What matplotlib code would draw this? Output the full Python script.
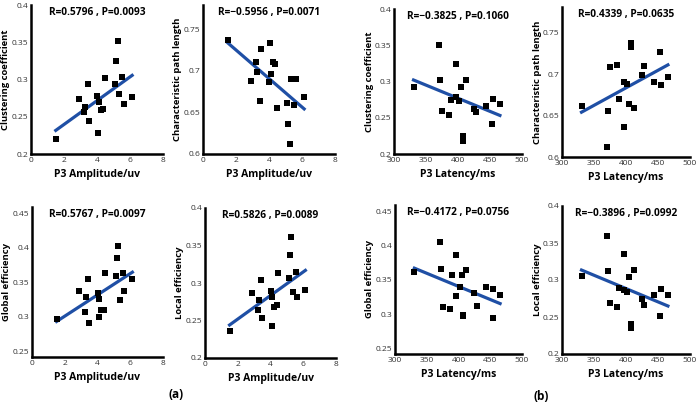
import numpy as np
import matplotlib
matplotlib.use("Agg")
import matplotlib.pyplot as plt

plt.rcParams["font.family"] = ["Open Sans", "DejaVu Sans"]

# P3 amplitude (uv) and latency (ms) per subject
amplitude = [1.50, 2.88, 3.22, 3.30, 3.45, 3.51, 4.03, 4.08, 4.11, 4.22,
             4.39, 4.48, 5.10, 5.18, 5.26, 5.36, 5.53, 5.62, 6.13]
latency = [330.5, 370.6, 372.6, 375.1, 386.6, 389.4, 396.6, 396.6, 401.6, 404.8,
           407.5, 407.5, 412.1, 424.8, 428.4, 443.0, 453.6, 454.5, 465.5]

# network measures vs amplitude
amp_cc = [0.2205, 0.2735, 0.256, 0.263, 0.294, 0.2437, 0.2775, 0.2276, 0.270, 0.2588,
          0.261, 0.302, 0.2935, 0.3247, 0.3514, 0.2806, 0.3038, 0.2673, 0.2762]
amp_cpl = [0.737, 0.6878, 0.710, 0.6987, 0.6638, 0.7267, 0.687, 0.733, 0.6967, 0.710,
           0.7083, 0.655, 0.661, 0.636, 0.612, 0.690, 0.6586, 0.6906, 0.669]
amp_ge = [0.2967, 0.3377, 0.3064, 0.3290, 0.3551, 0.2919, 0.3353, 0.2992, 0.3261, 0.3101,
          0.3098, 0.3637, 0.3599, 0.3845, 0.4023, 0.3247, 0.3628, 0.3372, 0.3555]
amp_le = [0.2364, 0.2862, 0.2644, 0.2769, 0.3044, 0.2529, 0.2898, 0.2422, 0.2813, 0.2684,
          0.2702, 0.3138, 0.3067, 0.3369, 0.3609, 0.2880, 0.3151, 0.2818, 0.2911]

# network measures vs latency
lat_cc = [0.2922, 0.3509, 0.3014, 0.2587, 0.2541, 0.2748, 0.3239, 0.2784, 0.2725, 0.2931,
          0.2252, 0.2183, 0.3023, 0.2619, 0.2573, 0.2661, 0.2417, 0.2761, 0.2683]
lat_cpl = [0.6613, 0.6121, 0.6560, 0.7085, 0.7109, 0.6694, 0.6363, 0.6911, 0.6883, 0.6641,
           0.7371, 0.7331, 0.6589, 0.6988, 0.7097, 0.6911, 0.7270, 0.6871, 0.6964]
lat_ge = [0.3621, 0.4051, 0.3665, 0.3107, 0.3082, 0.3572, 0.3868, 0.3260, 0.3399, 0.3572,
          0.2993, 0.2975, 0.3646, 0.3306, 0.3117, 0.3393, 0.2941, 0.3370, 0.3286]
lat_le = [0.3052, 0.3594, 0.3124, 0.2686, 0.2632, 0.2894, 0.3354, 0.2871, 0.2844, 0.3034,
          0.2402, 0.2348, 0.3133, 0.2750, 0.2664, 0.2799, 0.2510, 0.2880, 0.2795]

stats = ["R=0.5796 , P=0.0093", "R=\u22120.5956 , P=0.0071",
         "R=\u22120.3825 , P=0.1060", "R=0.4339 , P=0.0635",
         "R=0.5767 , P=0.0097", "R=0.5826 , P=0.0089",
         "R=\u22120.4172 , P=0.0756", "R=\u22120.3896 , P=0.0992"]

W, H = 700, 403
fig = plt.figure(figsize=(W / 100, H / 100), dpi=100)

LINE = "#1f4fa5"


def panel(px, x, y, xlim, xticks, ylim, yticks, ylabel, xlabel, title):
    l, t, r, b = px
    ax = fig.add_axes([l / W, 1 - b / H, (r - l) / W, (b - t) / H])
    ax.scatter(x, y, marker="s", s=17, color="black", zorder=3, linewidths=0)
    k, c = np.polyfit(x, y, 1)
    xs = np.array([min(x), max(x)])
    ax.plot(xs, k * xs + c, color=LINE, lw=2.3, zorder=2)
    ax.set_xlim(*xlim)
    ax.set_ylim(*ylim)
    ax.set_xticks(xticks)
    ax.set_yticks(yticks)
    ax.set_yticklabels([("%g" % v) for v in yticks])
    for s in ["top", "right"]:
        ax.spines[s].set_visible(False)
    for s in ["left", "bottom"]:
        ax.spines[s].set_linewidth(1.8)
    ax.tick_params(length=0, pad=2, labelsize=6, labelcolor="#333333")
    ax.set_ylabel(ylabel, fontsize=6.8, fontweight="bold")
    ax.yaxis.label.set_va("center")
    ax.yaxis.set_label_coords(-25 / (r - l), 0.5)
    ax.set_xlabel(xlabel, fontsize=7.5, fontweight="bold", labelpad=4)
    ax.text(0.5, 0.985, title, transform=ax.transAxes, ha="center", va="top",
            fontsize=7.3, fontweight="bold")
    return ax


amp_lim, amp_ticks = (0, 8), [0, 2, 4, 6, 8]
lat_lim, lat_ticks = (300, 500), [300, 350, 400, 450, 500]
ampl, latl = "P3 Amplitude/uv", "P3 Latency/ms"

panel((31, 5, 163, 154), amplitude, amp_cc, amp_lim, amp_ticks, (0.2, 0.4),
      [0.2, 0.25, 0.3, 0.35, 0.4], "Clustering coefficient", ampl, stats[0])
panel((203, 5, 335, 154), amplitude, amp_cpl, amp_lim, amp_ticks, (0.6, 0.779),
      [0.6, 0.65, 0.7, 0.75], "Characteristic path length", ampl, stats[1])
panel((394, 9, 522, 154), latency, lat_cc, lat_lim, lat_ticks, (0.2, 0.4),
      [0.2, 0.25, 0.3, 0.35, 0.4], "Clustering coefficient", latl, stats[2])
panel((562, 7, 690, 157), latency, lat_cpl, lat_lim, lat_ticks, (0.6, 0.781),
      [0.6, 0.65, 0.7, 0.75], "Characteristic path length", latl, stats[3])
panel((32, 207, 163, 357), amplitude, amp_ge, amp_lim, amp_ticks, (0.242, 0.459),
      [0.25, 0.3, 0.35, 0.4, 0.45], "Global efficiency", ampl, stats[4])
panel((205, 208, 336, 358), amplitude, amp_le, amp_lim, amp_ticks, (0.2, 0.4),
      [0.2, 0.25, 0.3, 0.35, 0.4], "Local efficiency", ampl, stats[5])
panel((395, 205, 522, 354), latency, lat_ge, lat_lim, lat_ticks, (0.242, 0.459),
      [0.25, 0.3, 0.35, 0.4, 0.45], "Global efficiency", latl, stats[6])
panel((562, 206, 690, 354), latency, lat_le, lat_lim, lat_ticks, (0.2, 0.4),
      [0.2, 0.25, 0.3, 0.35, 0.4], "Local efficiency", latl, stats[7])

fig.text(176 / W, 1 - 395 / H, "(a)", ha="center", va="center", fontsize=8.5, fontweight="bold")
fig.text(541 / W, 1 - 396 / H, "(b)", ha="center", va="center", fontsize=8.5, fontweight="bold")

fig.savefig("out.png", dpi=100)
